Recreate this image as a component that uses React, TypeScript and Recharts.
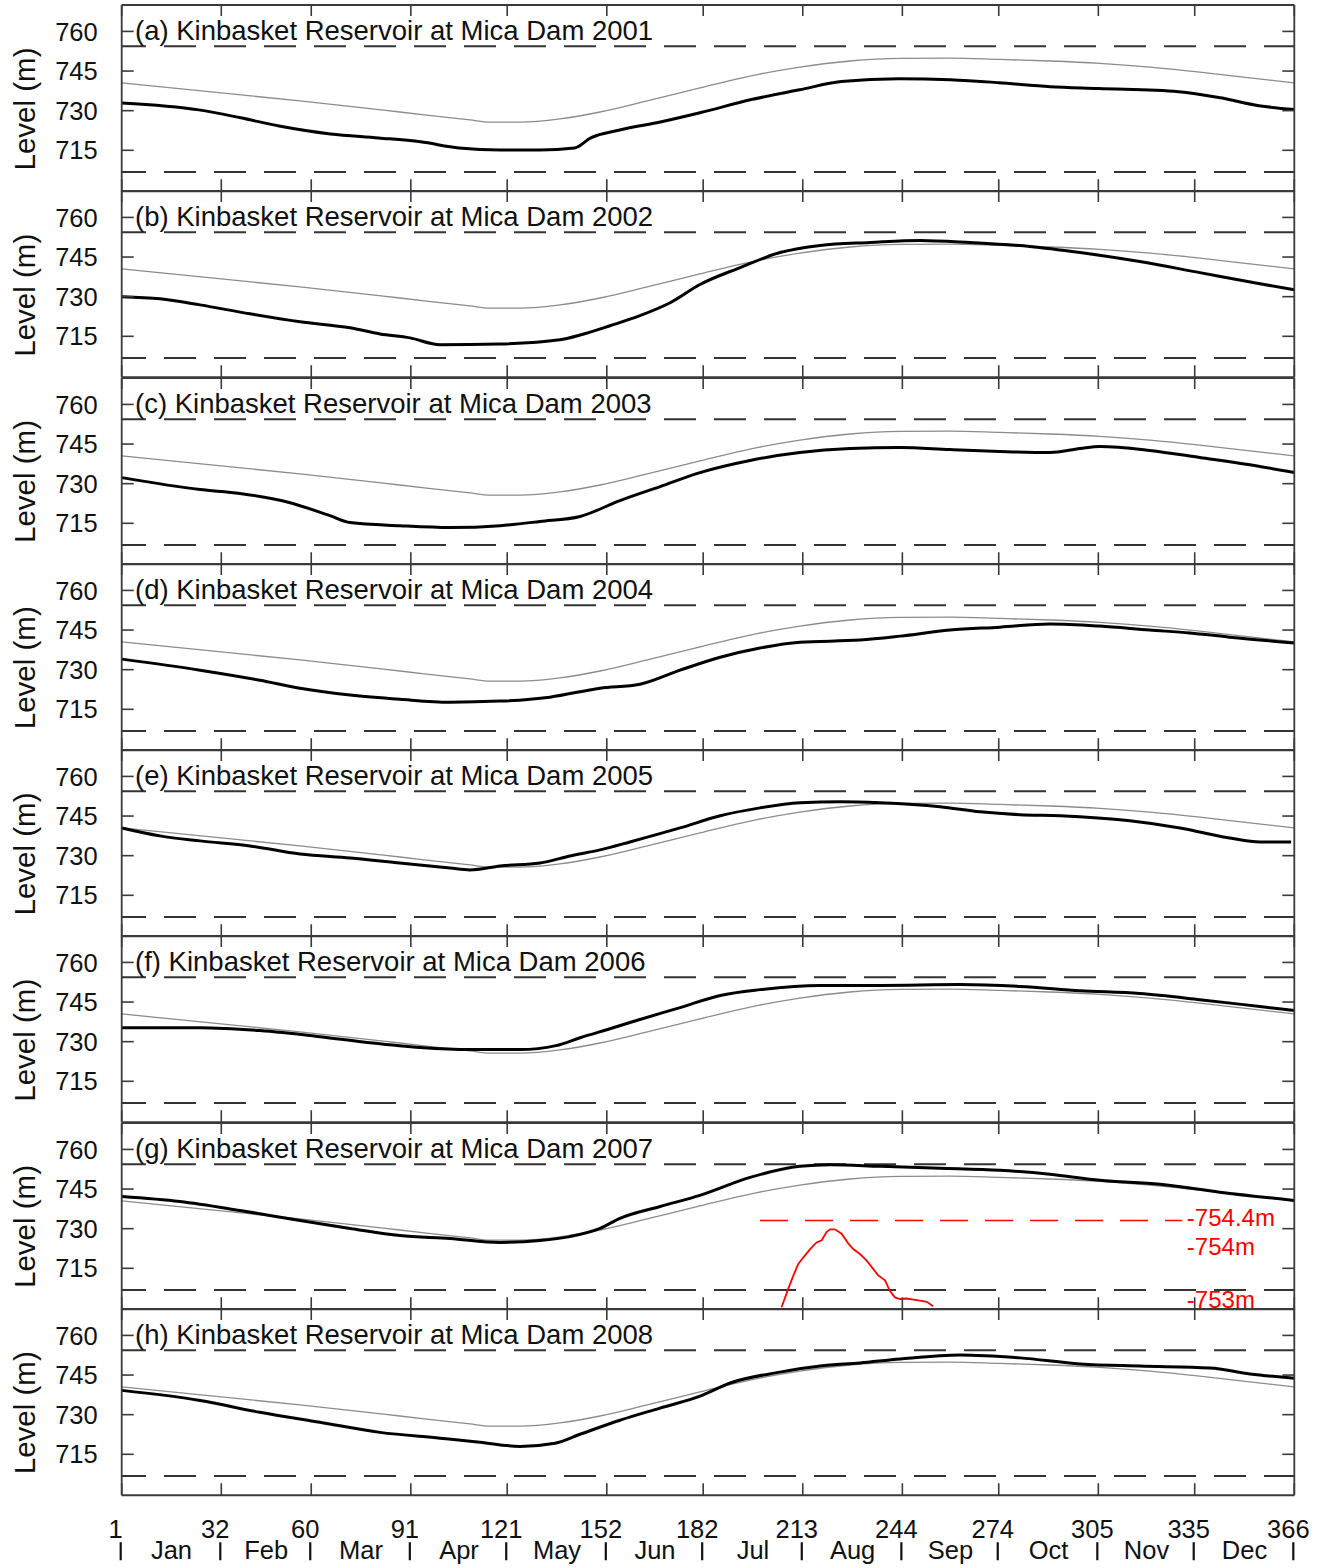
import React from 'react';
import { LineChart, Line, XAxis, YAxis, ReferenceLine } from 'recharts';

// ---------- data ----------
const monthStartDays = [1, 32, 60, 91, 121, 152, 182, 213, 244, 274, 305, 335, 366];
const monthNames = ['Jan', 'Feb', 'Mar', 'Apr', 'May', 'Jun', 'Jul', 'Aug', 'Sep', 'Oct', 'Nov', 'Dec'];
const yTicks = [715, 730, 745, 760];
const fullPoolLevel = 754.4;
const minPoolLevel = 706.8;
const panelLetters = ['a', 'b', 'c', 'd', 'e', 'f', 'g', 'h'];
const years = [2001, 2002, 2003, 2004, 2005, 2006, 2007, 2008];
const reservoirName = 'Kinbasket Reservoir at Mica Dam';
const yAxisTitle = 'Level (m)';

// thin grey reference (rule) curve, same in every panel
const ruleDays = [1, 56.5, 87.6, 109.4, 115.6, 125, 137.4, 149.9, 165.5, 181, 196.6, 212.1, 227.7, 243.3, 258.8, 274.4, 289.9, 305.5, 321, 336.6, 352.2, 366];
const ruleLevels = [740.5, 733.7, 729.5, 726.5, 725.7, 725.7, 726.9, 729.5, 734.0, 738.6, 743.1, 746.5, 748.8, 749.8, 749.9, 749.4, 748.8, 747.9, 746.5, 744.6, 742.4, 740.5];

const days2001 = [1, 25, 38, 50, 66, 81, 94, 106, 119, 131, 142, 147, 156, 169, 181, 197, 212, 225, 243, 259, 274, 290, 305, 330, 343, 355, 366];
const levels2001 = [732.9, 730.3, 727.3, 724.2, 721.2, 719.7, 718.2, 715.9, 715.1, 715.1, 715.9, 719.7, 722.7, 725.8, 729.2, 734.2, 737.9, 741, 742.1, 741.7, 740.6, 739.1, 738.4, 737.2, 734.9, 731.9, 730.4];

const days2002 = [1, 12.9, 25.4, 40.9, 56.5, 72.1, 81.4, 90.7, 100.1, 118.8, 137.4, 143.7, 153, 162.3, 171.7, 181, 193.5, 205.9, 218.4, 234, 249.5, 265.1, 283.7, 299.3, 317.9, 336.6, 355.3, 366];
const levels2002 = [730, 729.2, 726.9, 723.5, 720.5, 718.2, 715.9, 714.4, 711.8, 712.1, 713.7, 715.5, 719, 722.8, 727.7, 734.6, 741, 746.7, 749.4, 750.5, 751.3, 750.5, 749, 746.7, 743.3, 739.1, 734.9, 732.6];

const days2003 = [1, 25.4, 37.8, 53.4, 65.8, 72.1, 87.6, 103.2, 118.8, 131.2, 143.7, 156.1, 168.6, 181, 196.6, 212.1, 227.7, 243.3, 258.8, 274.4, 289.9, 299.3, 305.5, 321, 336.6, 355.3, 366];
const levels2003 = [732.3, 727.8, 726.3, 722.8, 717.9, 715.3, 714.1, 713.4, 714.1, 715.7, 717.6, 723.6, 728.9, 734.2, 738.8, 741.8, 743.3, 743.7, 742.9, 742.2, 741.8, 743.3, 744.1, 742.6, 739.9, 736.5, 734.2];

const days2004 = [1, 25.4, 44, 56.5, 72.1, 87.6, 103.2, 118.8, 134.3, 149.9, 162.3, 174.8, 187.3, 199.7, 212.1, 230.8, 243.3, 258.8, 274.4, 289.9, 305.5, 321, 333.5, 345.9, 366];
const levels2004 = [734, 729.8, 726, 723, 720.4, 718.8, 717.7, 718.1, 719.6, 723, 724.5, 729.8, 734.7, 738.2, 740.4, 741.2, 742.7, 745, 746.1, 747.3, 746.5, 745, 743.9, 742.3, 740.1];

const days2005 = [1, 12.9, 25.4, 40.9, 56.5, 72.1, 87.6, 103.2, 109.4, 118.8, 131.2, 140.5, 149.9, 159.2, 174.8, 187.3, 199.7, 212.1, 224.6, 237.1, 255.7, 268.2, 280.6, 293.1, 314.8, 330.4, 345.9, 355.3, 365];
const levels2005 = [740.5, 737.5, 735.6, 733.7, 730.6, 729.1, 727.2, 725.3, 724.6, 726.1, 727.2, 729.9, 732.2, 735.2, 740.5, 745.1, 748.1, 750, 750.4, 750, 748.5, 746.6, 745.5, 745.1, 743.2, 740.5, 736.7, 735.2, 735.2];

const days2006 = [1, 25.4, 44, 62.7, 78.3, 93.9, 109.4, 125, 136.2, 143.7, 153, 162.3, 174.8, 187.3, 199.7, 218.4, 237.1, 261.9, 280.6, 299.3, 317.9, 336.6, 355.3, 366];
const levels2006 = [735.3, 735.3, 734.2, 731.9, 729.6, 727.8, 727, 727, 728.5, 731.5, 734.9, 738.4, 742.9, 747.5, 749.7, 751.3, 751.3, 751.6, 750.9, 749.3, 748.2, 745.9, 743.3, 741.8];

const days2007 = [1, 19.1, 37.8, 56.5, 72.1, 87.6, 103.2, 118.8, 131.2, 140.5, 149.9, 156.1, 168.6, 181, 196.6, 212.1, 221.5, 237.1, 255.7, 274.4, 289.9, 305.5, 324.2, 342.8, 366];
const levels2007 = [742.2, 740.3, 736.9, 733.1, 730.1, 727.4, 726.3, 724.8, 725.5, 727, 730.1, 733.9, 738.4, 742.6, 749.4, 753.6, 754.2, 753.6, 752.9, 752.1, 750.6, 748.3, 746.8, 743.8, 740.7];

const days2008 = [1, 25.4, 44, 62.7, 81.4, 100.1, 112.5, 125, 135.9, 143.7, 156.1, 168.6, 181, 190.4, 205.9, 218.4, 230.8, 243.3, 261.9, 280.6, 299.3, 317.9, 339.7, 352.2, 366];
const levels2008 = [739.2, 735.4, 730.9, 727.1, 723.3, 721.1, 719.6, 718, 719.2, 722.6, 727.9, 732.5, 737, 742, 746.1, 748.4, 749.6, 751.1, 752.6, 751.5, 749.2, 748.4, 747.7, 745.4, 743.8];

// red enlarged detail of the 2007 peak (own vertical scale)
const zoomDays2007 = [206.4, 208.5, 210.1, 211.6, 213.2, 215.3, 217.3, 218.9, 220.4, 221.5, 223.0, 225.1, 227.2, 228.7, 230.8, 232.9, 234.9, 236.5, 238.6, 240.1, 241.7, 243.2, 245.3, 247.4, 249.5, 251.6, 253.6];
const zoomLevels2007 = [752.82, 753.16, 753.40, 753.61, 753.73, 753.88, 754.00, 754.04, 754.19, 754.24, 754.24, 754.16, 753.98, 753.88, 753.79, 753.67, 753.52, 753.40, 753.31, 753.12, 753.00, 752.97, 752.98, 752.96, 752.94, 752.92, 752.84];
const zoomLabelLevels = [754.4, 754, 753];
const zoomLabels = ['-754.4m', '-754m', '-753m'];
const zoomLineStartDay = 199.7;
const zoomLineEndDay = 331;

const observedDays = [days2001, days2002, days2003, days2004, days2005, days2006, days2007, days2008];
const observedLevels = [levels2001, levels2002, levels2003, levels2004, levels2005, levels2006, levels2007, levels2008];

// ---------- layout ----------
const PAGE_W = 1325;
const PLOT_LEFT = 121.7;
const PLOT_RIGHT = 1294.3;
const FIRST_TOP = 5;
const PANEL_H = 186.25;
const PAD = 6;
const LABEL_H = 73;
const Y_DOMAIN: [number, number] = [699.5, 770];
const RED_DOMAIN: [number, number] = [752.784, 756.176];
const FONT = '"Liberation Sans", Arial, Helvetica, sans-serif';
const AXIS_COLOR = '#3a3a3a';
const RED_LABEL_DY = [-3, 4, 2];

const toPoints = (d: number[], l: number[]) => d.map((day, i) => ({ day, level: l[i] }));
const rulePoints = toPoints(ruleDays, ruleLevels);
const monthMidDays = monthStartDays.slice(0, -1).map((d, i) => (d + monthStartDays[i + 1]) / 2);
const labelTicks = [...monthStartDays, ...monthMidDays];

const EmptyTick = () => <g />;

const YTickLabel = (props: any) => {
  const { x, y, payload } = props;
  return (
    <text x={x} y={y} dy="0.36em" textAnchor="end" fontSize={25.5} fill="#111" fontFamily={FONT}>
      {payload.value}
    </text>
  );
};

const DayTick = (props: any) => {
  const { x, y, payload } = props;
  const v = payload.value;
  const si = monthStartDays.indexOf(v);
  if (si >= 0) {
    return (
      <g>
        <text x={x - 6} y={y + 43} textAnchor="middle" fontSize={25.5} fill="#111" fontFamily={FONT}>{v}</text>
        <line x1={x - 1} x2={x - 1} y1={y + 47} y2={y + 65} stroke="#111" strokeWidth={2.2} />
      </g>
    );
  }
  const mi = monthMidDays.indexOf(v);
  return (
    <text x={x} y={y + 64} textAnchor="middle" fontSize={25.5} fill="#111" fontFamily={FONT}>
      {monthNames[mi]}
    </text>
  );
};

const axisLineStyle = { stroke: AXIS_COLOR, strokeWidth: 1.8 };
const tickLineStyle = { stroke: AXIS_COLOR, strokeWidth: 1.6 };

function Panel({ k }: { k: number }) {
  const top = FIRST_TOP + k * PANEL_H;
  const last = k === 7;
  const height = last ? PAD + PANEL_H + LABEL_H : PAD + PANEL_H + PAD;
  const obs = toPoints(observedDays[k], observedLevels[k]);
  return (
    <div style={{ position: 'absolute', left: 0, top: top - PAD }}>
      <LineChart
        width={PAGE_W}
        height={height}
        margin={{ top: PAD, right: PAGE_W - PLOT_RIGHT, bottom: last ? 0 : PAD, left: 0 }}
      >
        <XAxis xAxisId="b" dataKey="day" type="number" domain={[1, 366]} allowDataOverflow
          orientation="bottom" mirror ticks={monthStartDays} interval={0} tick={<EmptyTick />} tickSize={12}
          axisLine={axisLineStyle} tickLine={tickLineStyle} />
        <XAxis xAxisId="t" dataKey="day" type="number" domain={[1, 366]} allowDataOverflow
          orientation="top" mirror ticks={monthStartDays} interval={0} tick={<EmptyTick />} tickSize={11}
          axisLine={axisLineStyle} tickLine={tickLineStyle} />
        {last && (
          <XAxis xAxisId="lab" dataKey="day" type="number" domain={[1, 366]} allowDataOverflow
            orientation="bottom" height={LABEL_H} ticks={labelTicks} interval={0}
            tick={<DayTick />} tickSize={0} tickMargin={0} tickLine={false} axisLine={false} />
        )}
        <YAxis yAxisId="L" dataKey="level" type="number" domain={Y_DOMAIN} allowDataOverflow
          orientation="left" width={PLOT_LEFT} ticks={yTicks} interval={0}
          tick={<YTickLabel />} tickSize={0} tickMargin={24} tickLine={false} axisLine={false} />
        <YAxis yAxisId="Lm" dataKey="level" type="number" domain={Y_DOMAIN} allowDataOverflow
          orientation="left" mirror ticks={yTicks} interval={0} tick={<EmptyTick />} tickSize={12}
          axisLine={axisLineStyle} tickLine={tickLineStyle} />
        <YAxis yAxisId="R" dataKey="level" type="number" domain={Y_DOMAIN} allowDataOverflow
          orientation="right" mirror ticks={yTicks} interval={0} tick={<EmptyTick />} tickSize={12}
          axisLine={axisLineStyle} tickLine={tickLineStyle} />
        {k === 6 && (
          <YAxis yAxisId="red" dataKey="level" type="number" domain={RED_DOMAIN} allowDataOverflow hide />
        )}

        <ReferenceLine xAxisId="b" yAxisId="R" y={fullPoolLevel} stroke="#333" strokeWidth={2}
          strokeDasharray="32 18" strokeDashoffset={1.7} />
        <ReferenceLine xAxisId="b" yAxisId="R" y={minPoolLevel} stroke="#333" strokeWidth={2}
          strokeDasharray="32 18" strokeDashoffset={1.7} />

        <Line xAxisId="t" yAxisId="Lm" data={rulePoints} dataKey="level" type="monotone"
          stroke="#8c8c8c" strokeWidth={1.3} dot={false} activeDot={false} isAnimationActive={false} />
        <Line xAxisId="b" yAxisId="L" data={obs} dataKey="level" type="monotone"
          stroke="#000" strokeWidth={3} dot={false} activeDot={false} isAnimationActive={false} />

        {k === 6 && (
          <ReferenceLine xAxisId="b" yAxisId="red"
            segment={[{ x: zoomLineStartDay, y: zoomLabelLevels[0] }, { x: zoomLineEndDay, y: zoomLabelLevels[0] }]}
            stroke="#ff0000" strokeWidth={1.6} strokeDasharray="28 17"
            label={{ value: zoomLabels[0], position: 'right', offset: 5, fill: '#ff0000', fontSize: 24, fontFamily: FONT, dy: RED_LABEL_DY[0] }} />
        )}
        {k === 6 && zoomLabelLevels.slice(1).map((lv, i) => (
          <ReferenceLine key={lv} xAxisId="b" yAxisId="red"
            segment={[{ x: zoomLineEndDay - 1, y: lv }, { x: zoomLineEndDay, y: lv }]}
            stroke="none" strokeOpacity={0}
            label={{ value: zoomLabels[i + 1], position: 'right', offset: 5, fill: '#ff0000', fontSize: 24, fontFamily: FONT, dy: RED_LABEL_DY[i + 1] }} />
        ))}
        {k === 6 && (
          <Line xAxisId="b" yAxisId="red" data={toPoints(zoomDays2007, zoomLevels2007)} dataKey="level"
            type="linear" stroke="#ff0000" strokeWidth={1.8} dot={false} activeDot={false} isAnimationActive={false} />
        )}
      </LineChart>
    </div>
  );
}

export default function App() {
  return (
    <div style={{ position: 'absolute', left: 0, top: 0, width: PAGE_W, height: 1568, background: '#fff', fontFamily: FONT }}>
      {years.map((_, k) => <Panel key={k} k={k} />)}
      <svg width={PAGE_W} height={1568} style={{ position: 'absolute', left: 0, top: 0, pointerEvents: 'none' }}>
        {years.map((yr, k) => {
          const pt = FIRST_TOP + k * PANEL_H;
          return (
            <g key={yr}>
              <text x={135} y={pt + 35} fontSize={27.5} fill="#111" fontFamily={FONT}>
                {`(${panelLetters[k]}) ${reservoirName} ${yr}`}
              </text>
              <text transform={`translate(35, ${pt + 104}) rotate(-90)`} textAnchor="middle"
                fontSize={29.5} fill="#111" fontFamily={FONT}>
                {yAxisTitle}
              </text>
            </g>
          );
        })}
      </svg>
    </div>
  );
}
